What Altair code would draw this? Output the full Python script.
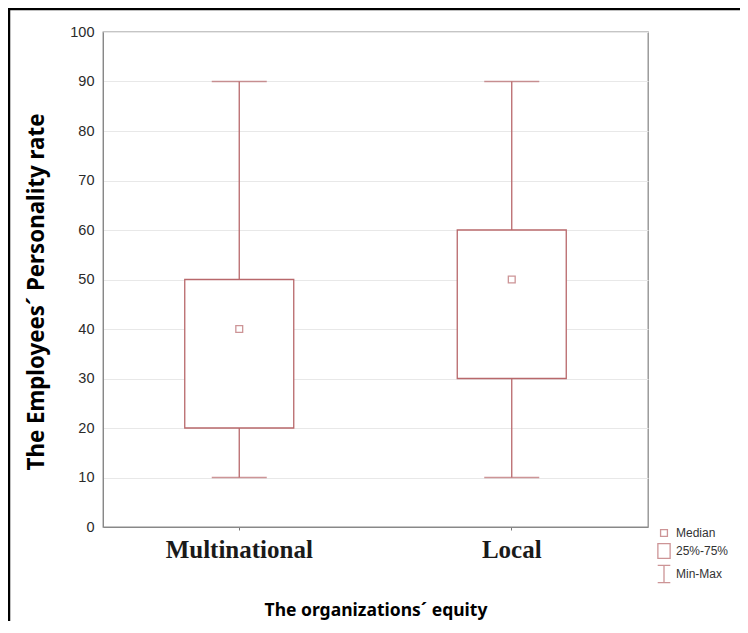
import altair as alt
import pandas as pd

categories = ["Multinational", "Local"]
mins = [10, 10]
q1s = [20, 30]
medians = [40, 50]
q3s = [50, 60]
maxs = [90, 90]

legend_labels = ["Median", "25%-75%", "Min-Max"]
y_ticks = [0, 10, 20, 30, 40, 50, 60, 70, 80, 90, 100]

df = pd.DataFrame({
    "cat": categories, "min": mins, "q1": q1s, "median": medians,
    "q3": q3s, "max": maxs, "stat": ["Median", "Median"],
})

RED = "#b8686b"
PL, PT = 95, 24
W, H = 545, 495

x = alt.X("cat:N", sort=categories, scale=alt.Scale(paddingInner=0, paddingOuter=0),
          axis=alt.Axis(title="The organizations´ equity", labelAngle=0,
                        labelFont="Liberation Serif", labelFontSize=25, labelFontWeight="bold",
                        labelColor="#1a1a1a", labelPadding=7,
                        titleFont="Noto Sans", titleFontSize=17.5, titleFontWeight="bold",
                        titleColor="#000000", titlePadding=39,
                        tickSize=3, tickColor="#777777", domainColor="#888888", grid=False))
yscale = alt.Scale(domain=[0, 100], nice=False)
yaxis = alt.Axis(title="The Employees´  Personality rate", values=y_ticks,
                 labelFont="Liberation Sans", labelFontSize=14.5, labelColor="#2a2a2a",
                 labelPadding=9, tickSize=0, domainColor="#888888",
                 gridColor="#e8e8e8", gridWidth=1.2,
                 titleFont="Noto Sans", titleFontSize=22.3, titleFontWeight="bold",
                 titleColor="#000000", titlePadding=21, titleY=H / 2 + 12)

base = alt.Chart(df)

whisker = base.mark_rule(color=RED, strokeWidth=1.3).encode(
    x=x, y=alt.Y("min:Q", scale=yscale, axis=yaxis), y2="max:Q")
box = base.mark_bar(fill="white", stroke=RED, strokeWidth=1.3,
                    width=alt.RelativeBandSize(0.4)).encode(
    x=alt.X("cat:N", sort=categories), y="q1:Q", y2="q3:Q")
cap_lo = base.mark_tick(color=RED, size=55, thickness=1.3, orient="horizontal").encode(
    x=alt.X("cat:N", sort=categories), y="min:Q")
cap_hi = base.mark_tick(color=RED, size=55, thickness=1.3, orient="horizontal").encode(
    x=alt.X("cat:N", sort=categories), y="max:Q")

sq_small = "M-0.38,-0.38L0.38,-0.38L0.38,0.38L-0.38,0.38Z"
sq_big = "M-0.68,-0.82L0.68,-0.82L0.68,0.82L-0.68,0.82Z"
ibeam = "M-0.7,-0.95L0.7,-0.95M0,-0.95L0,0.95M-0.7,0.95L0.7,0.95"

median = base.mark_point(stroke=RED, strokeWidth=1.3, size=324, filled=False).encode(
    x=alt.X("cat:N", sort=categories), y="median:Q",
    shape=alt.Shape("stat:N", scale=alt.Scale(domain=legend_labels,
                                              range=[sq_small, sq_big, ibeam]),
                    legend=alt.Legend(title=None, orient="none", legendX=551, legendY=491,
                                      labelFont="Liberation Sans", labelFontSize=12,
                                      labelColor="#333333", symbolStrokeColor=RED,
                                      symbolSize=324, symbolStrokeWidth=1.3,
                                      rowPadding=1, labelOffset=2)))

frame = alt.Chart(pd.DataFrame({"a": [0]})).mark_rect(
    fill=None, stroke="black", strokeWidth=2.5).encode(
    x=alt.value(-PL + 1), x2=alt.value(W + 200), y=alt.value(-PT + 1), y2=alt.value(H + 200))

chart = alt.layer(whisker, box, cap_lo, cap_hi, median, frame).properties(
    width=W, height=H, autosize=alt.AutoSizeParams(type="none"),
    padding={"left": PL, "top": PT, "right": 92, "bottom": 94},
    background="white",
).configure_view(stroke="#8c8c8c", strokeWidth=1.3)

chart.save("out.html", embed_options={"renderer": "svg", "actions": False})
